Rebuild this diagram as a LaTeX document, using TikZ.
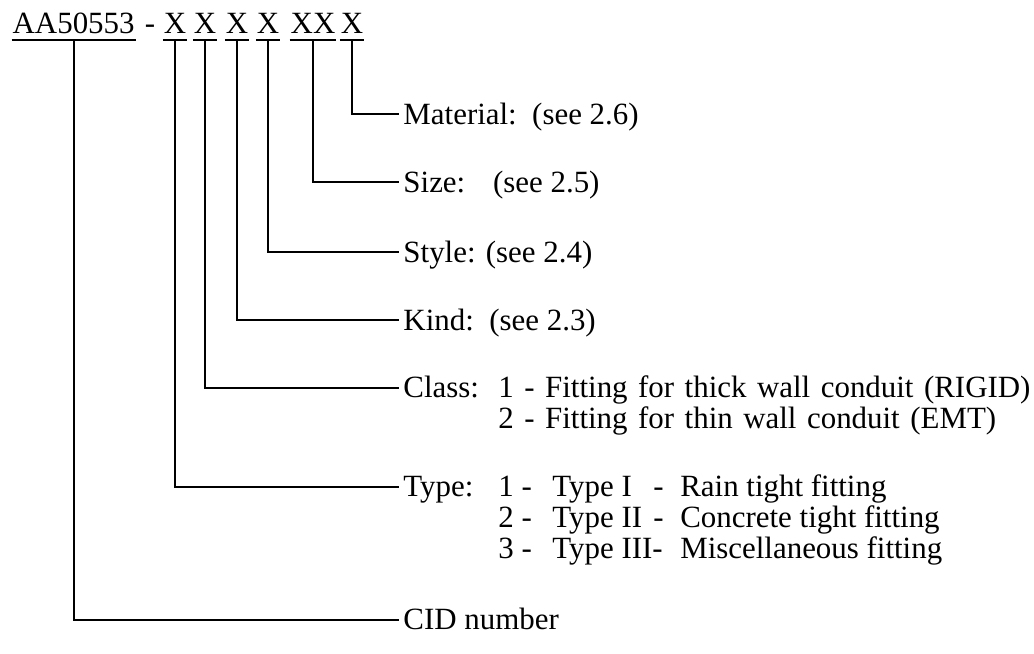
\documentclass[tikz,border=0pt]{standalone}
\usepackage{fontspec}
\setmainfont{Liberation Serif}
\begin{document}
\begin{tikzpicture}[
  line width=1.1pt,
  font=\fontsize{17.6}{17.4}\selectfont,
  code/.style={inner sep=0pt,anchor=base,text depth=0.11cm},
  lbl/.style={anchor=west,inner xsep=2pt,inner ysep=0pt,text height=0.4cm,text depth=0cm}
]
\draw[help lines,white] (0,-13.06) grid (20.68,0);
\node[code] (cid) at(1.47,-0.66){AA50553};
\node[code] (dash) at(3.0,-0.66){-};
\node[code] (ty) at(3.5,-0.66){X};
\node[code] (cl) at(4.1,-0.66){X};
\node[code] (ki) at(4.74,-0.66){X};
\node[code] (st) at(5.36,-0.66){X};
\node[code] (sz) at(6.26,-0.66){XX};
\node[code] (ma) at(7.04,-0.66){X};
\foreach \n in {cid,ty,cl,ki,st,sz,ma}
  \draw (\n.south west) -- (\n.south east);
\node[lbl] (mat) at(7.98,-2.28){Material:\ \ (see 2.6)};
\node[lbl] (siz) at(7.98,-3.64){Size:\hspace{0.9em}(see 2.5)};
\node[lbl] (sty) at(7.98,-5.04){Style: (see 2.4)};
\node[lbl] (kin) at(7.98,-6.40){Kind:\ \ (see 2.3)};
\node[lbl] (cls) at(7.98,-7.76){\spaceskip=0.34em\begin{tabular}[t]{@{}p{1.9cm}@{}l@{}}
Class:&1 - Fitting for thick wall conduit (RIGID)\\
&2 - Fitting for thin wall conduit (EMT)
\end{tabular}};
\node[lbl] (typ) at(7.98,-9.74){\begin{tabular}[t]{@{}p{1.9cm}@{}p{1.08cm}@{}p{2.02cm}@{}p{0.54cm}@{}l@{}}
Type:&1 -&Type I&-&Rain tight fitting\\
&2 -&Type II&-&Concrete tight fitting\\
&3 -&\multicolumn{2}{@{}p{2.56cm}@{}}{Type III-}&Miscellaneous fitting
\end{tabular}};
\node[lbl] (num) at(7.98,-12.40){CID number};
\draw (ma.south) |- (mat.west);
\draw (sz.south) |- (siz.west);
\draw (st.south) |- (sty.west);
\draw (ki.south) |- (kin.west);
\draw (cl.south) |- (cls.west);
\draw (ty.south) |- (typ.west);
\draw (cid.south) |- (num.west);
\end{tikzpicture}
\end{document}
